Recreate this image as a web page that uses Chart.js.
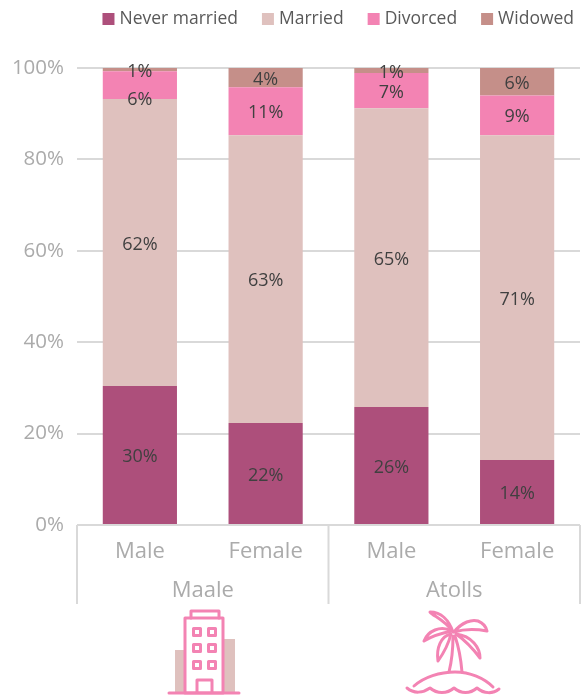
<!DOCTYPE html>
<html>
<head>
<meta charset="utf-8">
<script src="https://cdn.jsdelivr.net/npm/chart.js@4"></script>
<style>
    html, body { margin: 0; padding: 0; background: #fff; }
    #wrap { position: relative; width: 584px; height: 698px; overflow: hidden; }
    #chartBox { position: absolute; left: 0; top: 0; width: 584px; height: 606px; }
    #icons { position: absolute; left: 0; top: 0; }
</style>
</head>
<body>
<div id="wrap">
    <div id="chartBox"><canvas id="statusChart"></canvas></div>
    <svg id="icons" width="584" height="698" viewBox="0 0 584 698" fill="none" stroke="#F383B3" stroke-width="3" stroke-linecap="round" stroke-linejoin="round">
        <!-- building -->
        <rect x="175" y="650" width="10" height="43" fill="#DFC1BE" stroke="none"/>
        <rect x="223" y="639" width="12" height="54" fill="#DFC1BE" stroke="none"/>
        <rect x="185" y="618" width="38" height="75"/>
        <path d="M191 618V611H219V618"/>
        <path d="M169 693H239"/>
        <rect x="193.5" y="628.5" width="7" height="7"/><rect x="208.5" y="628.5" width="7" height="7"/>
        <rect x="193.5" y="644.5" width="7" height="7"/><rect x="208.5" y="644.5" width="7" height="7"/>
        <rect x="193.5" y="661.5" width="7" height="7"/><rect x="208.5" y="661.5" width="7" height="7"/>
        <path d="M197 692V680H212V692"/>
        <!-- palm island -->
        <path d="M449 672C452 660 453 648 453 636M462 672C461 660 459 648 455 636"/>
        <path d="M453 632C449 620 441 612 430 612C433 616 445 620 453 632Z"/>
        <path d="M454 632C462 622 472 619 478 621C483 623 486 627 487 631C476 629 464 629 454 632Z"/>
        <path d="M452 631C440 625 428 631 424 641C432 636 442 633 452 631Z"/>
        <path d="M451 634C441 636 436 648 438 661C443 654 448 646 451 634Z"/>
        <path d="M456 634C466 641 474 650 480 658C480 648 472 636 456 634Z"/>
        <path d="M414 686C424 677 440 672 455 672C470 672 484 678 493 687"/>
        <path d="M407 688C414 694 423 693 430 688C437 694 447 694 454 688C461 694 470 694 477 688C484 694 493 694 499 689"/>
    </svg>
</div>

<script>
// sex labels and the island group they sit under
const categories = ["Male", "Female", "Male", "Female"];
const groups = ["Maale", "Atolls"];

// shares in percent
const neverMarried = [30.4, 22.3, 25.8, 14.2];
const married = [62.8, 63.0, 65.4, 71.1];
const divorced = [6.1, 10.5, 7.7, 8.7];
const widowed = [0.7, 4.2, 1.1, 6.0];

// labels as printed on the chart
const neverMarriedLabels = ["30%", "22%", "26%", "14%"];
const marriedLabels = ["62%", "63%", "65%", "71%"];
const divorcedLabels = ["6%", "11%", "7%", "9%"];
const widowedLabels = ["1%", "4%", "1%", "6%"];

const axisFont = "'Open Sans', sans-serif";

// data labels, no datalabels plugin available here
const barLabels = {
    id: 'barLabels',
    afterDatasetsDraw(chart) {
        const ctx = chart.ctx;
        ctx.save();
        ctx.font = "18px " + axisFont;
        ctx.fillStyle = '#404040';
        ctx.textAlign = 'center';
        ctx.textBaseline = 'middle';
        chart.data.datasets.forEach((ds, d) => {
            chart.getDatasetMeta(d).data.forEach((bar, i) => {
                let y = (bar.y + bar.base) / 2 + 2;
                // the small label was dragged off centre in the original
                if (d === 2 && i === 0) y += 13;
                ctx.fillText(ds.shown[i], bar.x, y);
            });
        });
        ctx.restore();
    }
};

// legend drawn by hand, the built in one has a wider box to text gap
const topLegend = {
    id: 'topLegend',
    afterDraw(chart) {
        const ctx = chart.ctx;
        ctx.save();
        ctx.font = "17.5px " + axisFont;
        ctx.textBaseline = 'middle';
        const items = chart.data.datasets;
        const total = items.reduce((sum, ds) => sum + 17 + ctx.measureText(ds.label).width, 0) + 24 * (items.length - 1);
        let x = 574 - total;
        items.forEach(ds => {
            ctx.fillStyle = ds.backgroundColor;
            ctx.fillRect(x, 13, 12, 12);
            ctx.fillStyle = '#595959';
            ctx.fillText(ds.label, x + 17, 19);
            x += 17 + ctx.measureText(ds.label).width + 24;
        });
        ctx.restore();
    }
};

// multi level axis: separators and the group names
const groupAxis = {
    id: 'groupAxis',
    afterDraw(chart) {
        const ctx = chart.ctx;
        const x = chart.scales.x;
        const band = x.getPixelForValue(1) - x.getPixelForValue(0);
        const left = x.getPixelForValue(0) - band / 2;
        const bottom = chart.chartArea.bottom;
        ctx.save();
        ctx.strokeStyle = '#D9D9D9';
        ctx.lineWidth = 2;
        ctx.beginPath();
        [0, 2, 4].forEach(i => {
            ctx.moveTo(left + band * i, bottom);
            ctx.lineTo(left + band * i, 604);
        });
        ctx.moveTo(left, bottom);
        ctx.lineTo(left + band * 4, bottom);
        ctx.stroke();
        ctx.font = "22px " + axisFont;
        ctx.fillStyle = '#ABABAB';
        ctx.textAlign = 'center';
        ctx.textBaseline = 'middle';
        groups.forEach((g, i) => {
            ctx.fillText(g, left + band * (2 * i + 1), 591);
        });
        ctx.restore();
    }
};

function makeSet(label, data, shown, color) {
    return {
        label: label,
        data: data,
        shown: shown,
        backgroundColor: color,
        barPercentage: 0.59,
        categoryPercentage: 1
    };
}

const chart = new Chart(document.getElementById("statusChart"), {
    type: 'bar',
    data: {
        labels: categories,
        datasets: [
            makeSet('Never married', neverMarried, neverMarriedLabels, '#AD4F7B'),
            makeSet('Married', married, marriedLabels, '#DFC1BE'),
            makeSet('Divorced', divorced, divorcedLabels, '#F383B3'),
            makeSet('Widowed', widowed, widowedLabels, '#C58F89')
        ]
    },
    options: {
        responsive: true,
        maintainAspectRatio: false,
        animation: false,
        layout: { padding: { left: 0, right: 4, top: 68, bottom: 0 } },
        plugins: {
            tooltip: { enabled: false },
            legend: { display: false }
        },
        scales: {
            x: {
                stacked: true,
                grid: { display: false },
                border: { display: false },
                ticks: { color: '#ABABAB', font: { family: axisFont, size: 22 }, maxRotation: 0, padding: 6 },
                afterFit(scale) { scale.height = 81; }
            },
            y: {
                stacked: true,
                min: 0,
                max: 100,
                grid: { color: '#D9D9D9', lineWidth: 2, drawTicks: false },
                border: { display: false },
                ticks: {
                    stepSize: 20,
                    color: '#ABABAB',
                    padding: 13,
                    font: { family: axisFont, size: 20.5 },
                    callback: v => v + '%'
                },
                afterFit(scale) { scale.width = 77; }
            }
        }
    },
    plugins: [barLabels, topLegend, groupAxis]
});
</script>
</body>
</html>
